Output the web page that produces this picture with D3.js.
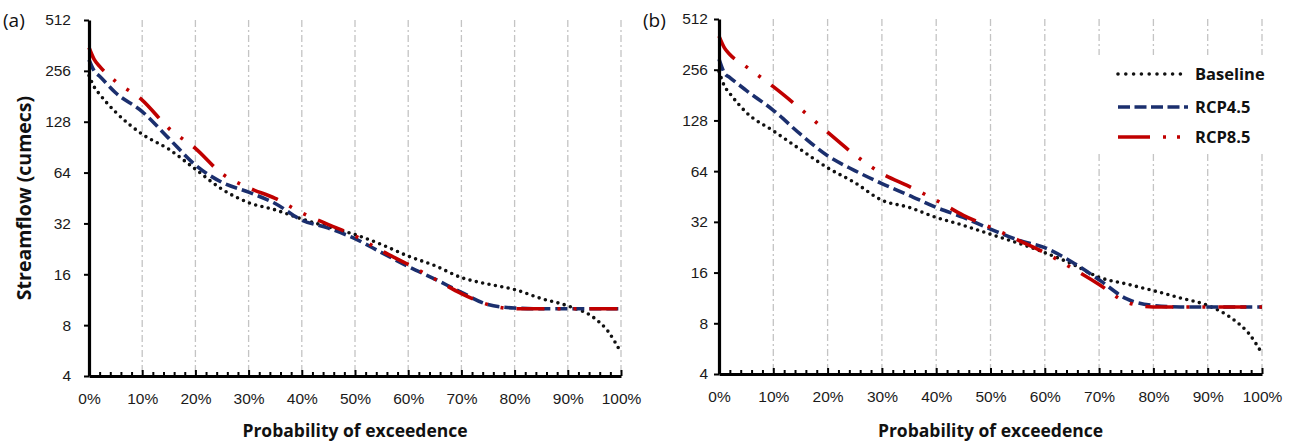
<!DOCTYPE html>
<html>
<head>
<meta charset="utf-8">
<script src="https://cdn.jsdelivr.net/npm/d3@7"></script>
<style>
  body { margin: 0; background: #fff; }
  svg { display: block; font-family: "Open Sans", Lato, sans-serif; }
</style>
</head>
<body>
<div id="chart"></div>
<script>
// flow duration curves, two panels, log2 y axis

const probs = [0, 1, 2, 5, 10, 15, 20, 25, 30, 35, 40, 45, 50, 55, 60, 65, 70, 75, 80, 85, 90, 95, 97.5, 100];

const baselineA = [240, 205, 186, 146, 108, 88, 67, 51, 42.5, 38.5, 34, 30.5, 27.5, 24, 20.5, 18, 15.3, 14, 13, 11.5, 10.4, 8.8, 7.4, 5.5];
const rcp45A = [298, 255, 238, 190, 147, 102, 71, 56, 49, 42, 33.5, 30, 26, 21.5, 17.8, 15, 12.5, 10.6, 10.1, 10, 10, 10, 10, 10];
const rcp85A = [352, 298, 272, 222, 172, 117, 89, 63, 52, 45, 37, 31.5, 27, 22, 18.3, 15, 12.3, 10.6, 10, 10, 10, 10, 10, 10];

const baselineB = [250, 205, 185, 143, 111, 86, 67, 54.7, 43, 39, 34, 30.5, 27, 24, 21, 18, 15, 13.7, 12.5, 11.3, 10.2, 8.3, 7.0, 5.3];
const rcp45B = [296, 245, 230, 193, 147, 106, 79, 64.5, 54, 46, 39, 34, 29, 25, 22.5, 18.5, 14.5, 11.2, 10.2, 10, 10, 10, 10, 10];
const rcp85B = [405, 345, 315, 267, 203, 150, 109, 80, 62, 52, 43, 35, 29.7, 25, 21, 17, 13.6, 10.7, 10, 10, 10, 10, 10, 10];

const seriesNames = ["Baseline", "RCP4.5", "RCP8.5"];
const yTicks = [4, 8, 16, 32, 64, 128, 256, 512];
const xTicks = d3.range(0, 101, 10);
const xMinor = d3.range(0, 101, 2).filter(d => d % 10 !== 0);

const styles = {
  "Baseline": { color: "#111111", dash: "0,6.5", cap: "round", width: 3.6 },
  "RCP4.5": { color: "#1b2f6e", dash: "12,5", cap: "butt", width: 3.6 },
  "RCP8.5": { color: "#c00000", dash: "28,13,3,13,3,13", cap: "butt", width: 3.6 }
};

const width = 1295, height = 441;
const svg = d3.select("#chart").append("svg")
  .attr("width", width)
  .attr("height", height);

function drawPanel(p) {
  const x = d3.scaleLinear().domain([0, 100]).range([p.left, p.right]);
  const y = d3.scaleLog().base(2).domain([4, 512]).range([p.bottom, p.top]);
  const g = svg.append("g");

  // grid
  g.selectAll(".grid")
    .data(xTicks.filter(d => d > 0))
    .join("line")
    .attr("x1", d => x(d)).attr("x2", d => x(d))
    .attr("y1", p.top).attr("y2", p.bottom)
    .attr("stroke", "#c4c4c4")
    .attr("stroke-width", 1.3)
    .attr("stroke-dasharray", "7,3,2,3");

  // legend box hides the grid behind it
  if (p.legend) {
    g.append("rect")
      .attr("x", p.legend.x - 45).attr("y", p.legend.y - 19)
      .attr("width", 210).attr("height", 98)
      .attr("fill", "#fff");
  }

  const line = d3.line()
    .x((d, i) => x(probs[i]))
    .y(d => y(d))
    .curve(d3.curveMonotoneX);

  seriesNames.forEach((name, k) => {
    const s = styles[name];
    g.append("path")
      .datum(p.series[k])
      .attr("d", line)
      .attr("fill", "none")
      .attr("stroke", s.color)
      .attr("stroke-width", s.width)
      .attr("stroke-dasharray", s.dash)
      .attr("stroke-linecap", s.cap);
  });

  // minor ticks
  g.append("g")
    .attr("transform", `translate(0,${p.bottom})`)
    .call(d3.axisBottom(x).tickValues(xMinor).tickSize(-4).tickFormat(""))
    .call(a => a.select(".domain").remove())
    .call(a => a.selectAll("line").attr("stroke", "#000").attr("stroke-width", 2));

  // x axis
  const xa = g.append("g")
    .attr("transform", `translate(0,${p.bottom})`)
    .call(d3.axisBottom(x).tickValues(xTicks).tickSizeInner(-6).tickSizeOuter(0)
      .tickPadding(17).tickFormat(d => d + "%"));
  xa.select(".domain").attr("stroke-width", 3.2);
  xa.selectAll("line").attr("stroke-width", 2);
  xa.selectAll("text").attr("font-size", 15.5).attr("fill", "#1a1a1a");

  // y axis
  const ya = g.append("g")
    .attr("transform", `translate(${p.left},0)`)
    .call(d3.axisLeft(y).tickValues(yTicks).tickSizeInner(5).tickSizeOuter(0)
      .tickPadding(p.ypad).tickFormat(d3.format("d")));
  ya.select(".domain").attr("stroke-width", 3.2);
  ya.selectAll("line").attr("stroke-width", 2);
  ya.selectAll("text").attr("font-size", 15.5).attr("fill", "#1a1a1a");

  // axis title
  g.append("text")
    .attr("x", (p.left + p.right) / 2)
    .attr("y", 437)
    .attr("text-anchor", "middle")
    .attr("font-size", 17.5)
    .attr("font-weight", "bold")
    .attr("fill", "#111")
    .text("Probability of exceedence");

  // panel label
  g.append("text")
    .attr("x", p.labelX)
    .attr("y", 27)
    .attr("font-size", 19)
    .attr("fill", "#111")
    .text(p.label);

  if (p.legend) {
    seriesNames.forEach((name, k) => {
      const s = styles[name];
      const ly = p.legend.y + p.legend.rows[k];
      g.append("line")
        .attr("x1", p.legend.x).attr("x2", p.legend.x + 70)
        .attr("y1", ly).attr("y2", ly)
        .attr("stroke", s.color)
        .attr("stroke-width", s.width)
        .attr("stroke-dasharray", name === "Baseline" ? "0,7.8" : name === "RCP4.5" ? "12,4.5" : "32,13,3,11,3,13")
        .attr("stroke-linecap", s.cap);
      g.append("text")
        .attr("x", p.legend.x + 77)
        .attr("y", ly + 6)
        .attr("font-size", 16.5)
        .attr("font-weight", "bold")
        .attr("fill", "#111")
        .text(name);
    });
  }
}

drawPanel({
  left: 89, right: 621, top: 20, bottom: 376,
  series: [baselineA, rcp45A, rcp85A],
  label: "(a)", labelX: 3, ypad: 13
});

drawPanel({
  left: 719, right: 1262, top: 19, bottom: 374,
  series: [baselineB, rcp45B, rcp85B],
  label: "(b)", labelX: 643, ypad: 6,
  legend: { x: 1118, y: 74, rows: [0, 33, 63] }
});

// y axis title, panel (a)
svg.append("text")
  .attr("transform", "translate(31,198) rotate(-90)")
  .attr("text-anchor", "middle")
  .attr("font-size", 19.5)
  .attr("font-weight", "bold")
  .attr("fill", "#111")
  .text("Streamflow (cumecs)");
</script>
</body>
</html>
